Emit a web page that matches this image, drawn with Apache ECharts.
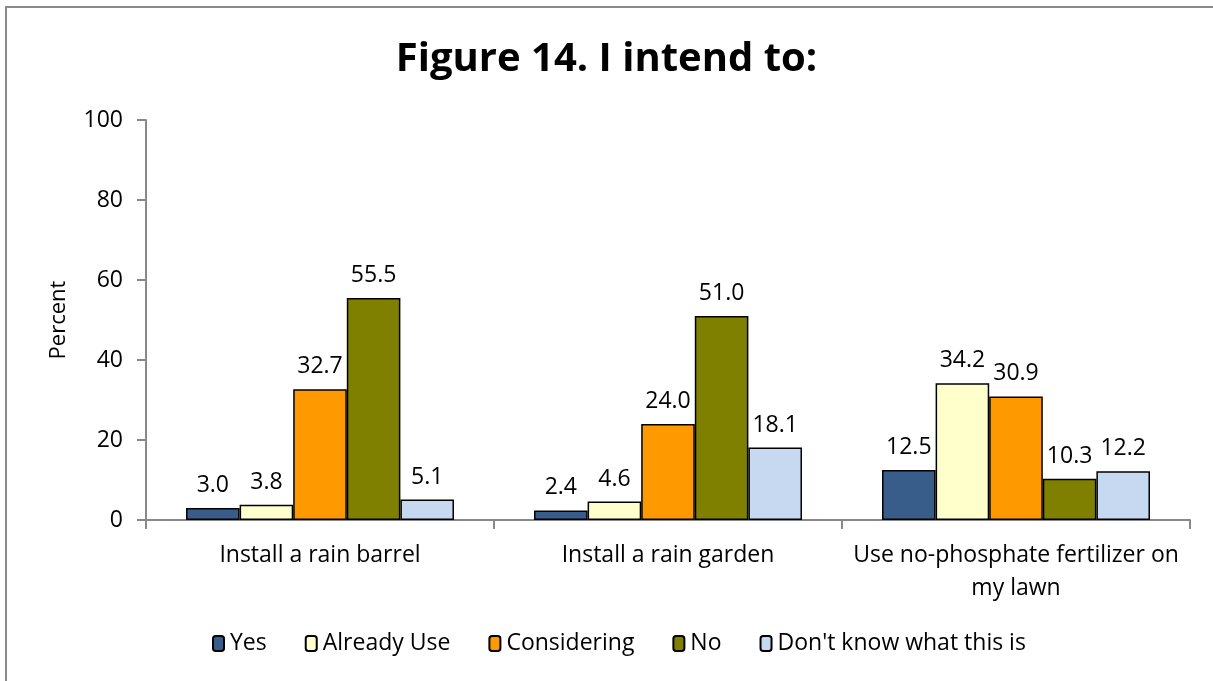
<!DOCTYPE html>
<html><head><meta charset="utf-8">
<script src="https://cdn.jsdelivr.net/npm/echarts@6/dist/echarts.min.js"></script>
<style>html,body{margin:0;padding:0;background:#fff}#c{width:1213px;height:681px}</style>
</head><body><div id="c"></div>
<script>
const categories = ["Install a rain barrel", "Install a rain garden", "Use no-phosphate fertilizer on\nmy lawn"];
const seriesNames = ["Yes", "Already Use", "Considering", "No", "Don't know what this is"];
const yesVals = [3.0, 2.4, 12.5];
const alreadyVals = [3.8, 4.6, 34.2];
const consideringVals = [32.7, 24.0, 30.9];
const noVals = [55.5, 51.0, 10.3];
const dontKnowVals = [5.1, 18.1, 12.2];
const yTicks = [0, 20, 40, 60, 80, 100];
const colors = ["#385D8A", "#FFFFCC", "#FF9900", "#808000", "#C6D9F1"];
const allVals = [yesVals, alreadyVals, consideringVals, noVals, dontKnowVals];
const FONT = "Open Sans";

const chart = echarts.init(document.getElementById('c'));
chart.setOption({
  animation: false,
  textStyle: { fontFamily: FONT },
  graphic: [{
    type: 'rect', shape: { x: 6, y: 7, width: 1400, height: 900 },
    style: { fill: 'none', stroke: '#8a8a8a', lineWidth: 2 }, silent: true
  }],
  title: {
    text: "Figure 14. I intend to:", left: 'center', top: 35,
    textStyle: { fontFamily: FONT, fontWeight: 'bold', fontSize: 40, color: '#000' }
  },
  legend: {
    data: seriesNames, bottom: 21, left: 207, itemGap: 38,
    itemWidth: 11, itemHeight: 15,
    textStyle: { fontFamily: FONT, fontSize: 23, color: '#000', padding: [0, 0, 0, 1] }
  },
  grid: { left: 146, right: 23, top: 120, bottom: 161 },
  xAxis: {
    type: 'category', data: categories,
    axisLine: { lineStyle: { color: '#888', width: 2 } },
    axisTick: { show: true, length: 9, lineStyle: { color: '#888', width: 2 } },
    axisLabel: { fontFamily: FONT, fontSize: 23, color: '#000', margin: 19, lineHeight: 33, interval: 0 }
  },
  yAxis: {
    type: 'value', min: 0, max: 100, interval: 20,
    name: 'Percent', nameLocation: 'middle', nameGap: 76, nameRotate: 90,
    nameTextStyle: { fontFamily: FONT, fontSize: 22, color: '#000' },
    axisLine: { show: true, lineStyle: { color: '#888', width: 2 } },
    axisTick: { show: true, length: 9, lineStyle: { color: '#888', width: 2 } },
    splitLine: { show: false },
    axisLabel: { fontFamily: FONT, fontSize: 23, color: '#000', margin: 23,
      formatter: v => yTicks.includes(v) ? String(v) : '' }
  },
  series: seriesNames.map((n, i) => ({
    name: n, type: 'bar', data: allVals[i],
    barGap: '0%', barCategoryGap: '23%',
    itemStyle: { color: colors[i], borderColor: '#000', borderWidth: 1.5 },
    label: { show: true, position: 'top', distance: 11, fontFamily: FONT, fontSize: 23, color: '#000',
      formatter: p => p.value.toFixed(1) }
  }))
});
</script></body></html>
